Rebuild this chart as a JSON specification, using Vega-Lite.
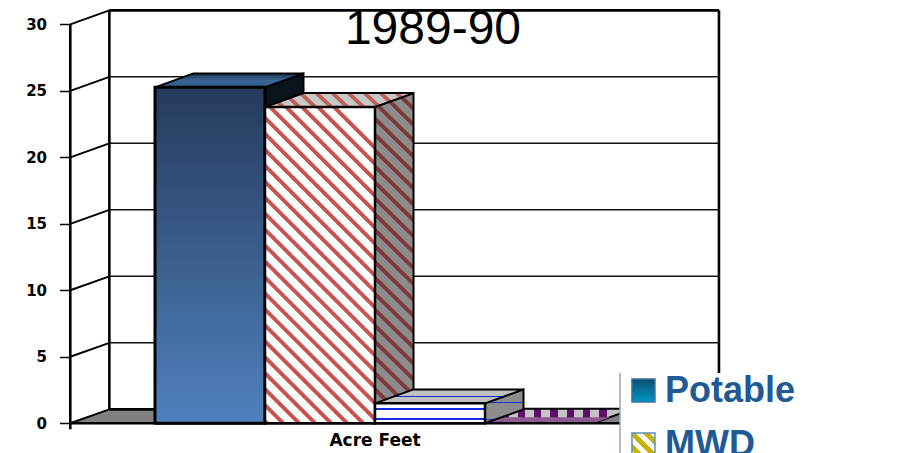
{"$schema":"https://vega.github.io/schema/vega-lite/v6.json","width":911,"height":453,"autosize":"none","padding":0,"background":"white","view":{"stroke":null},
"datasets":{
"lines":[
{"face":"wall","x":-0.77,"x2":-0.77,"y":-0.45,"y2":30},
{"face":"wall","x":-0.415,"x2":-0.415,"y":1.05,"y2":31.05},
{"face":"wall","x":-0.415,"x2":5.127,"y":31.05,"y2":31.05},
{"face":"wall","x":5.127,"x2":5.127,"y":31.05,"y2":1.05},
{"face":"wall","x":-0.415,"x2":0,"y":1.05,"y2":1.05},
{"face":"thin","x":-0.77,"x2":-0.415,"y":0,"y2":1.05},
{"face":"thin","x":-0.77,"x2":-0.415,"y":5,"y2":6.05},
{"face":"thin","x":-0.77,"x2":-0.415,"y":10,"y2":11.05},
{"face":"thin","x":-0.77,"x2":-0.415,"y":15,"y2":16.05},
{"face":"thin","x":-0.77,"x2":-0.415,"y":20,"y2":21.05},
{"face":"thin","x":-0.77,"x2":-0.415,"y":25,"y2":26.05},
{"face":"thin","x":-0.77,"x2":-0.415,"y":30,"y2":31.05},
{"face":"grid","x":-0.415,"x2":5.127,"y":6.05,"y2":6.05},
{"face":"grid","x":-0.415,"x2":5.127,"y":11.05,"y2":11.05},
{"face":"grid","x":-0.415,"x2":5.127,"y":16.05,"y2":16.05},
{"face":"grid","x":-0.415,"x2":5.127,"y":21.05,"y2":21.05},
{"face":"grid","x":-0.415,"x2":5.127,"y":26.05,"y2":26.05},
{"face":"base","x":-0.77,"x2":4.78,"y":0,"y2":0},
{"face":"legendline","x":4.227,"x2":4.227,"y":3.78,"y2":-2.233}
],
"faces":[
{"face":"floor","x":-0.77,"x2":4.78,"y":0},
{"face":"floor","x":-0.415,"x2":5.127,"y":1.05},
{"face":"Potable front","x":0,"x2":1,"y":25.26,"y2":0},
{"face":"Potable top","x":0,"x2":1,"y":25.26},
{"face":"Potable top","x":0.35,"x2":1.35,"y":26.31},
{"face":"Potable side","x":1,"y":25.26,"y2":0},
{"face":"Potable side","x":1.35,"y":26.31,"y2":1.05},
{"face":"MWD front","x":1,"x2":2,"y":23.78,"y2":0},
{"face":"MWD top","x":1,"x2":2,"y":23.78},
{"face":"MWD top","x":1.35,"x2":2.35,"y":24.83},
{"face":"MWD side","x":2,"y":23.78,"y2":0},
{"face":"MWD side","x":2.35,"y":24.83,"y2":1.05},
{"face":"Third front","x":2,"x2":3,"y":1.5,"y2":0},
{"face":"Third top","x":2,"x2":3,"y":1.5},
{"face":"Third top","x":2.35,"x2":3.35,"y":2.55},
{"face":"Third side","x":3,"y":1.5,"y2":0},
{"face":"Third side","x":3.35,"y":2.55,"y2":1.05},
{"face":"Fourth top","x":3,"x2":4,"y":0.05},
{"face":"Fourth top","x":3.35,"x2":4.35,"y":1.1},
{"face":"Fourth dither","x":3,"x2":4,"y":0.05},
{"face":"Fourth dither","x":3.14,"x2":4.14,"y":0.45},
{"face":"legendbox","x":4.227,"x2":6.873,"y":3.78,"y2":-2.233},
{"face":"swatch1","x":4.336,"x2":4.545,"y":3.33,"y2":1.6},
{"face":"swatch2","x":4.336,"x2":4.545,"y":-0.73,"y2":-2.46}
],
"labels":[
{"kind":"title","text":"1989-90","x":2.527,"y":29.57},
{"kind":"axis","text":"Acre Feet","x":2,"y":-1.36},
{"kind":"legend","text":"Potable","x":4.636,"y":1.6},
{"kind":"legend","text":"MWD","x":4.636,"y":-2.46}
]},
"encoding":{
"x":{"field":"x","type":"quantitative","stack":null,"scale":{"domain":[-1.40909,6.87273],"nice":false,"zero":false},"axis":null},
"y":{"field":"y","type":"quantitative","stack":null,"scale":{"domain":[-2.233,31.83],"nice":false,"zero":false},"axis":{"values":[0,5,10,15,20,25,30],"offset":-70.5,"domain":false,"grid":false,"title":null,"tickSize":11,"tickWidth":1.5,"tickColor":"black","labelPadding":13,"labelFont":"DejaVu Sans","labelFontWeight":"bold","labelFontSize":15,"labelColor":"black"}}
},
"layer":[
{"data":{"name":"faces"},"transform":[{"filter":"datum.face=='floor'"}],"mark":{"type":"area","orient":"horizontal","fill":"#808080"},"encoding":{"x2":{"field":"x2"}}},
{"data":{"name":"lines"},"transform":[{"filter":"datum.face=='grid'"}],"mark":{"type":"rule","stroke":"#111","strokeWidth":1.5},"encoding":{"x2":{"field":"x2"},"y2":{"field":"y2"}}},
{"data":{"name":"lines"},"transform":[{"filter":"datum.face=='thin'"}],"mark":{"type":"rule","stroke":"black","strokeWidth":2},"encoding":{"x2":{"field":"x2"},"y2":{"field":"y2"}}},
{"data":{"name":"lines"},"transform":[{"filter":"datum.face=='wall'"}],"mark":{"type":"rule","stroke":"black","strokeWidth":2.6},"encoding":{"x2":{"field":"x2"},"y2":{"field":"y2"}}},
{"data":{"name":"faces"},"transform":[{"filter":"datum.face=='Potable side'"}],"mark":{"type":"area","fill":"#0b131c","stroke":"black","strokeWidth":2},"encoding":{"y2":{"field":"y2"}}},
{"data":{"name":"faces"},"transform":[{"filter":"datum.face=='Potable top'"}],"mark":{"type":"area","orient":"horizontal","stroke":"black","strokeWidth":2,"fill":{"gradient":"linear","x1":0,"y1":0,"x2":0,"y2":1,"stops":[{"offset":0,"color":"#1b2f48"},{"offset":0.5,"color":"#3a6698"},{"offset":1,"color":"#2f5a8a"}]}},"encoding":{"x2":{"field":"x2"}}},
{"data":{"name":"faces"},"transform":[{"filter":"datum.face=='Potable front'"}],"mark":{"type":"rect","stroke":"black","strokeWidth":3,"fill":{"gradient":"linear","x1":0,"y1":0,"x2":0,"y2":1,"stops":[{"offset":0,"color":"#263b5c"},{"offset":1,"color":"#4f81bd"}]}},"encoding":{"x2":{"field":"x2"},"y2":{"field":"y2"}}},
{"data":{"name":"faces"},"transform":[{"filter":"datum.face=='MWD side'"}],"mark":{"type":"area","stroke":"black","strokeWidth":2,"fill":{"gradient":"linear","x1":0,"y1":1,"x2":0.136,"y2":-0.189,"stops":[
{"offset":0,"color":"#7d3a38"},{"offset":0.011,"color":"#7d3a38"},{"offset":0.014,"color":"#8c8c8c"},{"offset":0.037,"color":"#8c8c8c"},
{"offset":0.04,"color":"#7d3a38"},{"offset":0.051,"color":"#7d3a38"},{"offset":0.054,"color":"#8c8c8c"},{"offset":0.077,"color":"#8c8c8c"},
{"offset":0.08,"color":"#7d3a38"},{"offset":0.091,"color":"#7d3a38"},{"offset":0.094,"color":"#8c8c8c"},{"offset":0.117,"color":"#8c8c8c"},
{"offset":0.12,"color":"#7d3a38"},{"offset":0.131,"color":"#7d3a38"},{"offset":0.134,"color":"#8c8c8c"},{"offset":0.157,"color":"#8c8c8c"},
{"offset":0.16,"color":"#7d3a38"},{"offset":0.171,"color":"#7d3a38"},{"offset":0.174,"color":"#8c8c8c"},{"offset":0.197,"color":"#8c8c8c"},
{"offset":0.2,"color":"#7d3a38"},{"offset":0.211,"color":"#7d3a38"},{"offset":0.214,"color":"#8c8c8c"},{"offset":0.237,"color":"#8c8c8c"},
{"offset":0.24,"color":"#7d3a38"},{"offset":0.251,"color":"#7d3a38"},{"offset":0.254,"color":"#8c8c8c"},{"offset":0.277,"color":"#8c8c8c"},
{"offset":0.28,"color":"#7d3a38"},{"offset":0.291,"color":"#7d3a38"},{"offset":0.294,"color":"#8c8c8c"},{"offset":0.317,"color":"#8c8c8c"},
{"offset":0.32,"color":"#7d3a38"},{"offset":0.331,"color":"#7d3a38"},{"offset":0.334,"color":"#8c8c8c"},{"offset":0.357,"color":"#8c8c8c"},
{"offset":0.36,"color":"#7d3a38"},{"offset":0.371,"color":"#7d3a38"},{"offset":0.374,"color":"#8c8c8c"},{"offset":0.397,"color":"#8c8c8c"},
{"offset":0.4,"color":"#7d3a38"},{"offset":0.411,"color":"#7d3a38"},{"offset":0.414,"color":"#8c8c8c"},{"offset":0.437,"color":"#8c8c8c"},
{"offset":0.44,"color":"#7d3a38"},{"offset":0.451,"color":"#7d3a38"},{"offset":0.454,"color":"#8c8c8c"},{"offset":0.477,"color":"#8c8c8c"},
{"offset":0.48,"color":"#7d3a38"},{"offset":0.491,"color":"#7d3a38"},{"offset":0.494,"color":"#8c8c8c"},{"offset":0.517,"color":"#8c8c8c"},
{"offset":0.52,"color":"#7d3a38"},{"offset":0.531,"color":"#7d3a38"},{"offset":0.534,"color":"#8c8c8c"},{"offset":0.557,"color":"#8c8c8c"},
{"offset":0.56,"color":"#7d3a38"},{"offset":0.571,"color":"#7d3a38"},{"offset":0.574,"color":"#8c8c8c"},{"offset":0.597,"color":"#8c8c8c"},
{"offset":0.6,"color":"#7d3a38"},{"offset":0.611,"color":"#7d3a38"},{"offset":0.614,"color":"#8c8c8c"},{"offset":0.637,"color":"#8c8c8c"},
{"offset":0.64,"color":"#7d3a38"},{"offset":0.651,"color":"#7d3a38"},{"offset":0.654,"color":"#8c8c8c"},{"offset":0.677,"color":"#8c8c8c"},
{"offset":0.68,"color":"#7d3a38"},{"offset":0.691,"color":"#7d3a38"},{"offset":0.694,"color":"#8c8c8c"},{"offset":0.717,"color":"#8c8c8c"},
{"offset":0.72,"color":"#7d3a38"},{"offset":0.731,"color":"#7d3a38"},{"offset":0.734,"color":"#8c8c8c"},{"offset":0.757,"color":"#8c8c8c"},
{"offset":0.76,"color":"#7d3a38"},{"offset":0.771,"color":"#7d3a38"},{"offset":0.774,"color":"#8c8c8c"},{"offset":0.797,"color":"#8c8c8c"},
{"offset":0.8,"color":"#7d3a38"},{"offset":0.811,"color":"#7d3a38"},{"offset":0.814,"color":"#8c8c8c"},{"offset":0.837,"color":"#8c8c8c"},
{"offset":0.84,"color":"#7d3a38"},{"offset":0.851,"color":"#7d3a38"},{"offset":0.854,"color":"#8c8c8c"},{"offset":0.877,"color":"#8c8c8c"},
{"offset":0.88,"color":"#7d3a38"},{"offset":0.891,"color":"#7d3a38"},{"offset":0.894,"color":"#8c8c8c"},{"offset":0.917,"color":"#8c8c8c"}
]}},"encoding":{"y2":{"field":"y2"}}},
{"data":{"name":"faces"},"transform":[{"filter":"datum.face=='MWD top'"}],"mark":{"type":"area","orient":"horizontal","stroke":"black","strokeWidth":2,"fill":{"gradient":"linear","x1":0,"y1":1,"x2":2.675,"y2":0.729,"stops":[
{"offset":0,"color":"#c0605a"},{"offset":0.011,"color":"#c0605a"},{"offset":0.014,"color":"#c8c8c8"},{"offset":0.037,"color":"#c8c8c8"},
{"offset":0.04,"color":"#c0605a"},{"offset":0.051,"color":"#c0605a"},{"offset":0.054,"color":"#c8c8c8"},{"offset":0.077,"color":"#c8c8c8"},
{"offset":0.08,"color":"#c0605a"},{"offset":0.091,"color":"#c0605a"},{"offset":0.094,"color":"#c8c8c8"},{"offset":0.117,"color":"#c8c8c8"},
{"offset":0.12,"color":"#c0605a"},{"offset":0.131,"color":"#c0605a"},{"offset":0.134,"color":"#c8c8c8"},{"offset":0.157,"color":"#c8c8c8"},
{"offset":0.16,"color":"#c0605a"},{"offset":0.171,"color":"#c0605a"},{"offset":0.174,"color":"#c8c8c8"},{"offset":0.197,"color":"#c8c8c8"},
{"offset":0.2,"color":"#c0605a"},{"offset":0.211,"color":"#c0605a"},{"offset":0.214,"color":"#c8c8c8"},{"offset":0.237,"color":"#c8c8c8"},
{"offset":0.24,"color":"#c0605a"},{"offset":0.251,"color":"#c0605a"},{"offset":0.254,"color":"#c8c8c8"},{"offset":0.277,"color":"#c8c8c8"},
{"offset":0.28,"color":"#c0605a"},{"offset":0.291,"color":"#c0605a"},{"offset":0.294,"color":"#c8c8c8"},{"offset":0.317,"color":"#c8c8c8"},
{"offset":0.32,"color":"#c0605a"},{"offset":0.331,"color":"#c0605a"},{"offset":0.334,"color":"#c8c8c8"},{"offset":0.357,"color":"#c8c8c8"},
{"offset":0.36,"color":"#c0605a"},{"offset":0.371,"color":"#c0605a"},{"offset":0.374,"color":"#c8c8c8"},{"offset":0.397,"color":"#c8c8c8"},
{"offset":0.4,"color":"#c0605a"},{"offset":0.411,"color":"#c0605a"},{"offset":0.414,"color":"#c8c8c8"},{"offset":0.437,"color":"#c8c8c8"}
]}},"encoding":{"x2":{"field":"x2"}}},
{"data":{"name":"faces"},"transform":[{"filter":"datum.face=='MWD front'"}],"mark":{"type":"rect","stroke":"black","strokeWidth":2.5,"fill":{"gradient":"linear","x1":0,"y1":1,"x2":0.391,"y2":-0.126,"stops":[
{"offset":0,"color":"#c65450"},{"offset":0.011,"color":"#c65450"},{"offset":0.014,"color":"#fff"},{"offset":0.037,"color":"#fff"},
{"offset":0.04,"color":"#c65450"},{"offset":0.051,"color":"#c65450"},{"offset":0.054,"color":"#fff"},{"offset":0.077,"color":"#fff"},
{"offset":0.08,"color":"#c65450"},{"offset":0.091,"color":"#c65450"},{"offset":0.094,"color":"#fff"},{"offset":0.117,"color":"#fff"},
{"offset":0.12,"color":"#c65450"},{"offset":0.131,"color":"#c65450"},{"offset":0.134,"color":"#fff"},{"offset":0.157,"color":"#fff"},
{"offset":0.16,"color":"#c65450"},{"offset":0.171,"color":"#c65450"},{"offset":0.174,"color":"#fff"},{"offset":0.197,"color":"#fff"},
{"offset":0.2,"color":"#c65450"},{"offset":0.211,"color":"#c65450"},{"offset":0.214,"color":"#fff"},{"offset":0.237,"color":"#fff"},
{"offset":0.24,"color":"#c65450"},{"offset":0.251,"color":"#c65450"},{"offset":0.254,"color":"#fff"},{"offset":0.277,"color":"#fff"},
{"offset":0.28,"color":"#c65450"},{"offset":0.291,"color":"#c65450"},{"offset":0.294,"color":"#fff"},{"offset":0.317,"color":"#fff"},
{"offset":0.32,"color":"#c65450"},{"offset":0.331,"color":"#c65450"},{"offset":0.334,"color":"#fff"},{"offset":0.357,"color":"#fff"},
{"offset":0.36,"color":"#c65450"},{"offset":0.371,"color":"#c65450"},{"offset":0.374,"color":"#fff"},{"offset":0.397,"color":"#fff"},
{"offset":0.4,"color":"#c65450"},{"offset":0.411,"color":"#c65450"},{"offset":0.414,"color":"#fff"},{"offset":0.437,"color":"#fff"},
{"offset":0.44,"color":"#c65450"},{"offset":0.451,"color":"#c65450"},{"offset":0.454,"color":"#fff"},{"offset":0.477,"color":"#fff"},
{"offset":0.48,"color":"#c65450"},{"offset":0.491,"color":"#c65450"},{"offset":0.494,"color":"#fff"},{"offset":0.517,"color":"#fff"},
{"offset":0.52,"color":"#c65450"},{"offset":0.531,"color":"#c65450"},{"offset":0.534,"color":"#fff"},{"offset":0.557,"color":"#fff"},
{"offset":0.56,"color":"#c65450"},{"offset":0.571,"color":"#c65450"},{"offset":0.574,"color":"#fff"},{"offset":0.597,"color":"#fff"},
{"offset":0.6,"color":"#c65450"},{"offset":0.611,"color":"#c65450"},{"offset":0.614,"color":"#fff"},{"offset":0.637,"color":"#fff"},
{"offset":0.64,"color":"#c65450"},{"offset":0.651,"color":"#c65450"},{"offset":0.654,"color":"#fff"},{"offset":0.677,"color":"#fff"},
{"offset":0.68,"color":"#c65450"},{"offset":0.691,"color":"#c65450"},{"offset":0.694,"color":"#fff"},{"offset":0.717,"color":"#fff"},
{"offset":0.72,"color":"#c65450"},{"offset":0.731,"color":"#c65450"},{"offset":0.734,"color":"#fff"},{"offset":0.757,"color":"#fff"},
{"offset":0.76,"color":"#c65450"},{"offset":0.771,"color":"#c65450"},{"offset":0.774,"color":"#fff"},{"offset":0.797,"color":"#fff"},
{"offset":0.8,"color":"#c65450"},{"offset":0.811,"color":"#c65450"},{"offset":0.814,"color":"#fff"},{"offset":0.837,"color":"#fff"},
{"offset":0.84,"color":"#c65450"},{"offset":0.851,"color":"#c65450"},{"offset":0.854,"color":"#fff"},{"offset":0.877,"color":"#fff"},
{"offset":0.88,"color":"#c65450"},{"offset":0.891,"color":"#c65450"},{"offset":0.894,"color":"#fff"},{"offset":0.917,"color":"#fff"},
{"offset":0.92,"color":"#c65450"},{"offset":0.931,"color":"#c65450"},{"offset":0.934,"color":"#fff"},{"offset":0.957,"color":"#fff"},
{"offset":0.96,"color":"#c65450"},{"offset":0.971,"color":"#c65450"},{"offset":0.974,"color":"#fff"},{"offset":1,"color":"#fff"}
]}},"encoding":{"x2":{"field":"x2"},"y2":{"field":"y2"}}},
{"data":{"name":"faces"},"transform":[{"filter":"datum.face=='Fourth top'"}],"mark":{"type":"area","orient":"horizontal","stroke":"black","strokeWidth":2,"fill":{"gradient":"linear","x1":0,"y1":0,"x2":1,"y2":0,"stops":[
{"offset":0,"color":"#c4c4c4"},{"offset":0.11,"color":"#c4c4c4"},{"offset":0.11,"color":"#5d0f68"},{"offset":0.16,"color":"#5d0f68"},{"offset":0.16,"color":"#c4c4c4"},{"offset":0.22,"color":"#c4c4c4"},{"offset":0.22,"color":"#5d0f68"},{"offset":0.27,"color":"#5d0f68"},{"offset":0.27,"color":"#c4c4c4"},{"offset":0.33,"color":"#c4c4c4"},{"offset":0.33,"color":"#5d0f68"},{"offset":0.38,"color":"#5d0f68"},{"offset":0.38,"color":"#c4c4c4"},{"offset":0.44,"color":"#c4c4c4"},{"offset":0.44,"color":"#5d0f68"},{"offset":0.49,"color":"#5d0f68"},{"offset":0.49,"color":"#c4c4c4"},{"offset":0.55,"color":"#c4c4c4"},{"offset":0.55,"color":"#5d0f68"},{"offset":0.6,"color":"#5d0f68"},{"offset":0.6,"color":"#c4c4c4"},{"offset":0.66,"color":"#c4c4c4"},{"offset":0.66,"color":"#5d0f68"},{"offset":0.71,"color":"#5d0f68"},{"offset":0.71,"color":"#c4c4c4"},{"offset":0.77,"color":"#c4c4c4"},{"offset":0.77,"color":"#5d0f68"},{"offset":0.82,"color":"#5d0f68"},{"offset":0.82,"color":"#c4c4c4"},{"offset":1,"color":"#c4c4c4"}
]}},"encoding":{"x2":{"field":"x2"}}},
{"data":{"name":"faces"},"transform":[{"filter":"datum.face=='Fourth dither'"}],"mark":{"type":"area","orient":"horizontal","fill":"#8e5a92"},"encoding":{"x2":{"field":"x2"}}},
{"data":{"name":"faces"},"transform":[{"filter":"datum.face=='Third side'"}],"mark":{"type":"area","stroke":"black","strokeWidth":2,"fill":{"gradient":"linear","x1":0,"y1":0,"x2":0,"y2":1,"stops":[{"offset":0,"color":"#8c8c8c"},{"offset":0.36,"color":"#8c8c8c"},{"offset":0.36,"color":"#2030d0"},{"offset":0.41,"color":"#2030d0"},{"offset":0.41,"color":"#8c8c8c"},{"offset":0.86,"color":"#8c8c8c"},{"offset":0.86,"color":"#2030d0"},{"offset":0.91,"color":"#2030d0"},{"offset":0.91,"color":"#8c8c8c"},{"offset":1,"color":"#8c8c8c"}]}},"encoding":{"y2":{"field":"y2"}}},
{"data":{"name":"faces"},"transform":[{"filter":"datum.face=='Third top'"}],"mark":{"type":"area","orient":"horizontal","stroke":"black","strokeWidth":2,"fill":{"gradient":"linear","x1":0,"y1":0,"x2":0,"y2":1,"stops":[{"offset":0,"color":"#c0c0c0"},{"offset":0.46,"color":"#c0c0c0"},{"offset":0.46,"color":"#1a28d8"},{"offset":0.56,"color":"#1a28d8"},{"offset":0.56,"color":"#c0c0c0"},{"offset":0.88,"color":"#c0c0c0"},{"offset":0.88,"color":"#1a28d8"},{"offset":1,"color":"#1a28d8"}]}},"encoding":{"x2":{"field":"x2"}}},
{"data":{"name":"faces"},"transform":[{"filter":"datum.face=='Third front'"}],"mark":{"type":"rect","stroke":"black","strokeWidth":2.5,"fill":{"gradient":"linear","x1":0,"y1":0,"x2":0,"y2":1,"stops":[{"offset":0,"color":"#fff"},{"offset":0.24,"color":"#fff"},{"offset":0.24,"color":"#1a28e0"},{"offset":0.31,"color":"#1a28e0"},{"offset":0.31,"color":"#fff"},{"offset":0.74,"color":"#fff"},{"offset":0.74,"color":"#1a28e0"},{"offset":0.81,"color":"#1a28e0"},{"offset":0.81,"color":"#fff"},{"offset":1,"color":"#fff"}]}},"encoding":{"x2":{"field":"x2"},"y2":{"field":"y2"}}},
{"data":{"name":"lines"},"transform":[{"filter":"datum.face=='base'"}],"mark":{"type":"rule","stroke":"black","strokeWidth":2.6},"encoding":{"x2":{"field":"x2"},"y2":{"field":"y2"}}},
{"data":{"name":"faces"},"transform":[{"filter":"datum.face=='legendbox'"}],"mark":{"type":"rect","fill":"white"},"encoding":{"x2":{"field":"x2"},"y2":{"field":"y2"}}},
{"data":{"name":"lines"},"transform":[{"filter":"datum.face=='legendline'"}],"mark":{"type":"rule","stroke":"#8aa6c8","strokeWidth":1.5},"encoding":{"x2":{"field":"x2"},"y2":{"field":"y2"}}},
{"data":{"name":"faces"},"transform":[{"filter":"datum.face=='swatch1'"}],"mark":{"type":"rect","stroke":"#3a6f9c","strokeWidth":1.5,"fill":{"gradient":"linear","x1":0,"y1":0,"x2":0,"y2":1,"stops":[{"offset":0,"color":"#0a5070"},{"offset":1,"color":"#0095c8"}]}},"encoding":{"x2":{"field":"x2"},"y2":{"field":"y2"}}},
{"data":{"name":"faces"},"transform":[{"filter":"datum.face=='swatch2'"}],"mark":{"type":"rect","stroke":"#5f8fc0","strokeWidth":1.5,"fill":{"gradient":"linear","x1":0,"y1":1,"x2":1,"y2":0,"stops":[{"offset":0,"color":"#fff"},{"offset":0.12,"color":"#fff"},{"offset":0.12,"color":"#c8b400"},{"offset":0.28,"color":"#c8b400"},{"offset":0.28,"color":"#fff"},{"offset":0.42,"color":"#fff"},{"offset":0.42,"color":"#c8b400"},{"offset":0.58,"color":"#c8b400"},{"offset":0.58,"color":"#fff"},{"offset":0.72,"color":"#fff"},{"offset":0.72,"color":"#c8b400"},{"offset":0.88,"color":"#c8b400"},{"offset":0.88,"color":"#fff"},{"offset":1,"color":"#fff"}]}},"encoding":{"x2":{"field":"x2"},"y2":{"field":"y2"}}},
{"data":{"name":"labels"},"transform":[{"filter":"datum.kind=='title'"}],"mark":{"type":"text","font":"Liberation Sans","fontSize":48,"align":"center","baseline":"middle","color":"black"},"encoding":{"text":{"field":"text"}}},
{"data":{"name":"labels"},"transform":[{"filter":"datum.kind=='axis'"}],"mark":{"type":"text","font":"DejaVu Sans","fontWeight":"bold","fontSize":17,"align":"center","baseline":"middle","color":"black"},"encoding":{"text":{"field":"text"}}},
{"data":{"name":"labels"},"transform":[{"filter":"datum.kind=='legend'"}],"mark":{"type":"text","font":"Liberation Sans","fontWeight":"bold","fontSize":36,"align":"left","baseline":"alphabetic","color":"#1f5a96"},"encoding":{"text":{"field":"text"}}}
]}
